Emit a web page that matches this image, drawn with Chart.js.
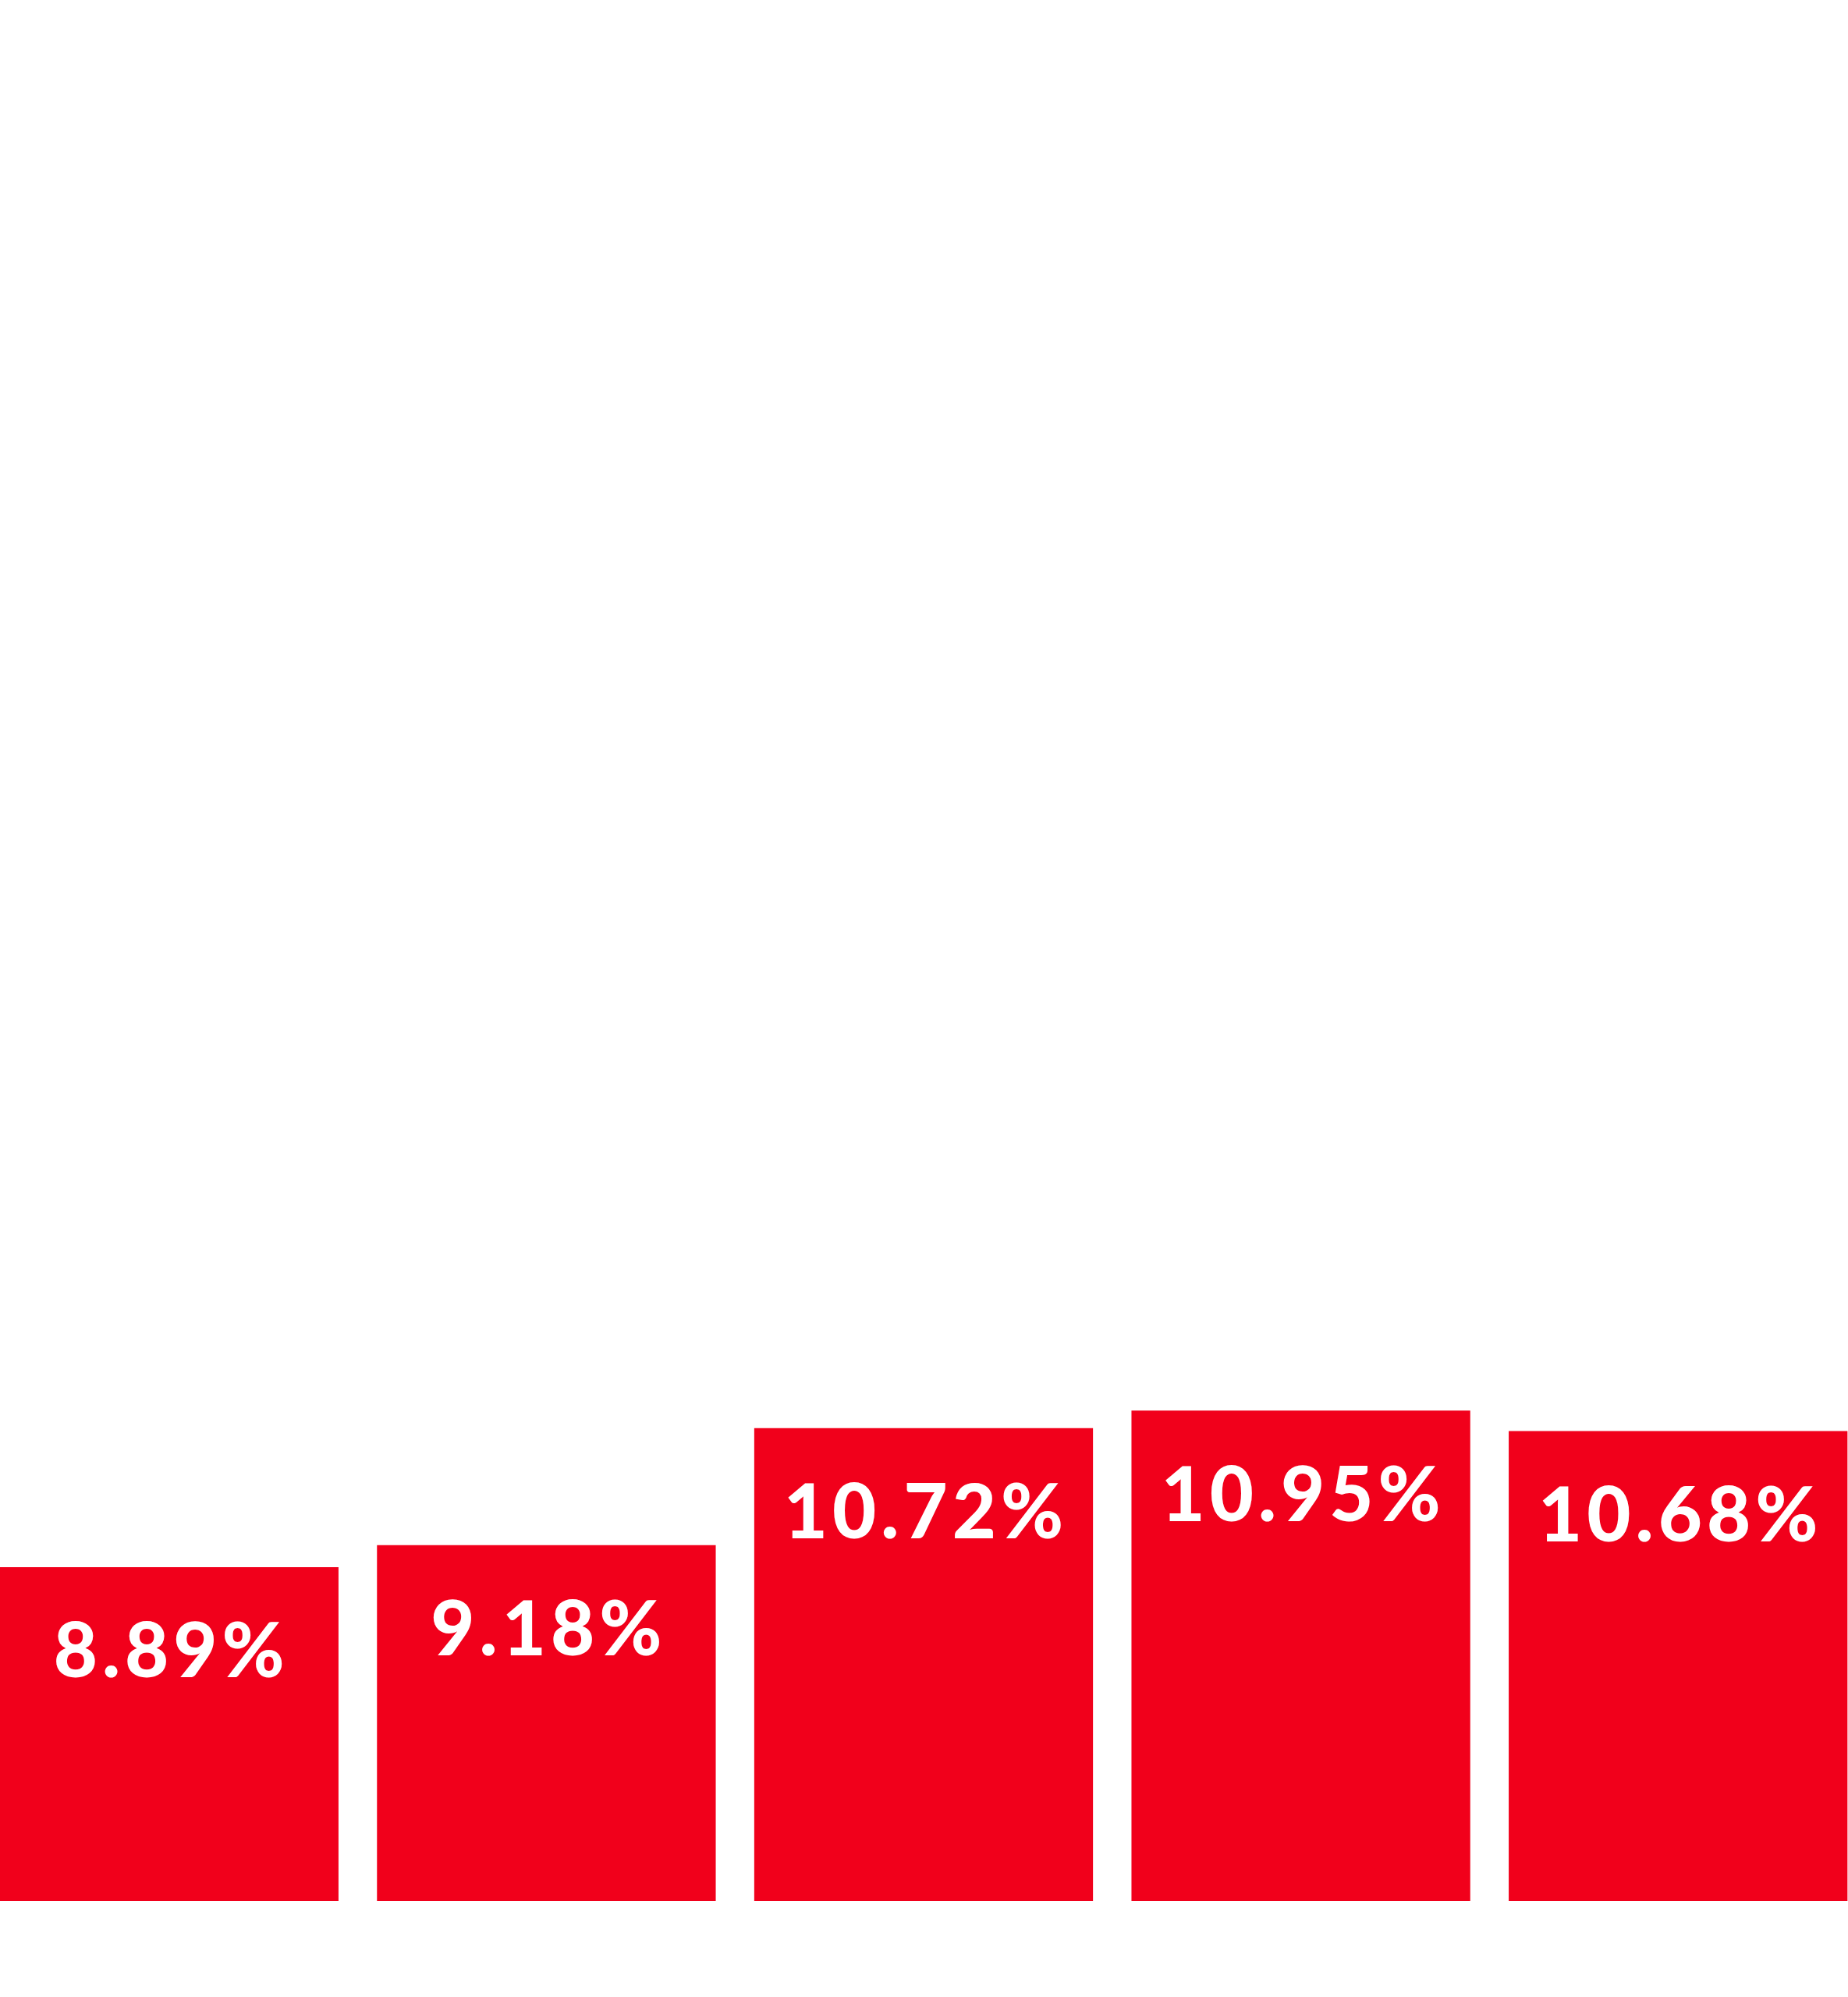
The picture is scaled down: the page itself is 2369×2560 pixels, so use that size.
<!DOCTYPE html>
<html>
<head>
<meta charset="utf-8">
<script src="https://cdn.jsdelivr.net/npm/chart.js@4.4.1/dist/chart.umd.min.js"></script>
<style>
  html, body { margin: 0; padding: 0; background: #fff; overflow: hidden; }
  body { width: 2369px; height: 2560px; position: relative; }
  #wrap { position: absolute; left: -25px; top: 0; width: 2418px; height: 2560px; }
</style>
</head>
<body>
<div id="wrap"><canvas id="barChart"></canvas></div>
<script>
const categories = ['1', '2', '3', '4', '5'];
const rates = [8.89, 9.18, 10.72, 10.95, 10.68];
const rateLabels = ['8.89%', '9.18%', '10.72%', '10.95%', '10.68%'];

const barRed = '#F1001B';

// white value text inside the top of each bar
const insideLabels = {
  id: 'insideLabels',
  afterDatasetsDraw(chart) {
    const ctx = chart.ctx;
    const meta = chart.getDatasetMeta(0);
    const spacing = 6;
    ctx.save();
    ctx.fillStyle = '#fff';
    ctx.font = '900 97px Lato';
    ctx.letterSpacing = spacing + 'px';
    ctx.textAlign = 'center';
    ctx.textBaseline = 'middle';
    meta.data.forEach((bar, i) => {
      ctx.fillText(rateLabels[i], bar.x + spacing / 2, bar.y + 110);
    });
    ctx.restore();
  }
};

document.addEventListener('DOMContentLoaded', () => {
  const canvas = document.getElementById('barChart');
  new Chart(canvas, {
    type: 'bar',
    data: {
      labels: categories,
      datasets: [{
        data: rates,
        backgroundColor: barRed,
        borderWidth: 0,
        barPercentage: 1,
        categoryPercentage: 0.898
      }]
    },
    options: {
      responsive: true,
      maintainAspectRatio: false,
      animation: false,
      layout: { padding: { top: 0, bottom: 123, left: 0, right: 0 } },
      plugins: {
        legend: { display: false },
        tooltip: { enabled: false }
      },
      scales: {
        x: { display: false },
        y: { display: false, min: 4.5, max: 29.5 }
      }
    },
    plugins: [insideLabels]
  });
});
</script>
</body>
</html>
